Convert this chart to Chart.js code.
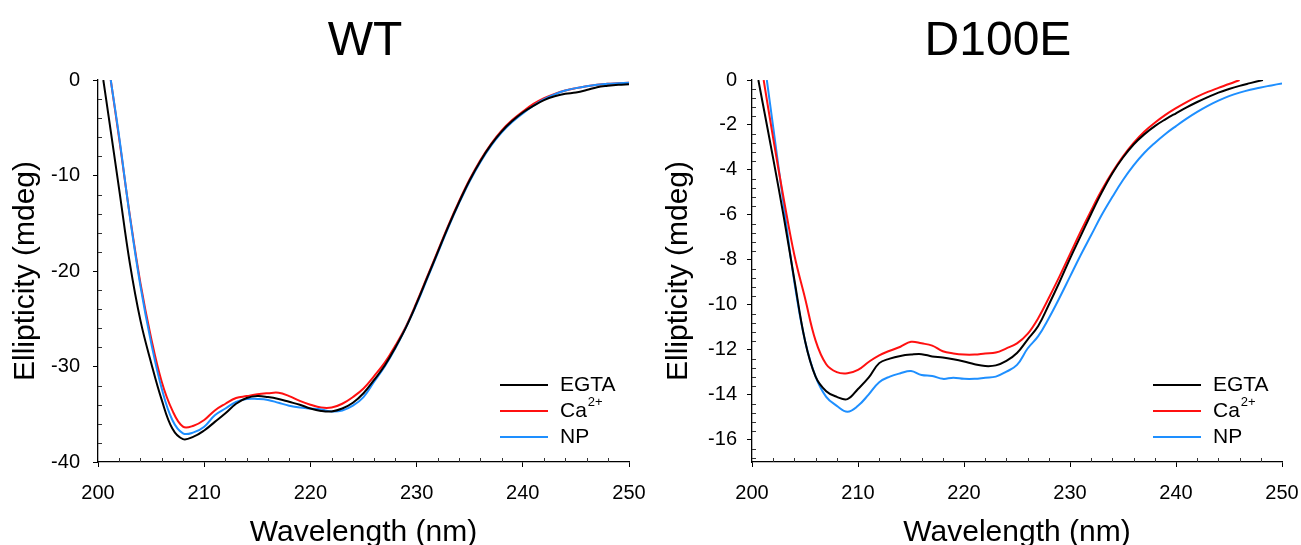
<!DOCTYPE html>
<html>
<head>
<meta charset="utf-8">
<script src="https://cdn.jsdelivr.net/npm/chart.js@4"></script>
<style>
  html, body { margin: 0; padding: 0; background: #fff; }
  #wrap { position: relative; width: 1301px; height: 545px; overflow: hidden; }
  canvas { position: absolute; top: 0; }
  #wt { left: 0; }
  #d100e { left: 650px; }
</style>
</head>
<body>
<div id="wrap">
  <canvas id="wt" width="650" height="545"></canvas>
  <canvas id="d100e" width="651" height="545"></canvas>
</div>
<script>
// ---- data ----
const seriesNames = ["EGTA", "Ca²⁺", "NP"];
const seriesColors = ["#000000", "#ff1010", "#1e8fff"];

const xTicks = [200, 210, 220, 230, 240, 250];
const wtYTicks = [0, -10, -20, -30, -40];
const d100eYTicks = [0, -2, -4, -6, -8, -10, -12, -14, -16];

// WT
const wtEgtaNm = [200.5, 201, 202, 203, 204, 205, 206, 207, 208, 209, 210, 211, 212, 213, 214, 215, 216, 217, 218, 219, 220, 221, 222, 223, 224, 225, 226, 227, 228, 229, 230, 231, 232, 233, 234, 235, 236, 237, 238, 239, 240, 241, 242, 243, 244, 245, 246, 247, 248, 249, 250];
const wtEgta = [0, -3.8, -11.5, -19.2, -25.2, -29.6, -33.5, -36.5, -37.6, -37.35, -36.7, -35.8, -34.9, -33.9, -33.3, -33.1, -33.2, -33.4, -33.7, -34.0, -34.4, -34.65, -34.7, -34.4, -33.8, -32.8, -31.4, -29.9, -28.0, -25.9, -23.4, -20.7, -18.0, -15.3, -12.8, -10.5, -8.5, -6.8, -5.4, -4.3, -3.4, -2.7, -2.1, -1.7, -1.45, -1.3, -1.05, -0.75, -0.6, -0.5, -0.45];

const wtCaNm = [201.2, 202, 203, 204, 205, 206, 207, 208, 209, 210, 211, 212, 213, 214, 215, 216, 217, 218, 219, 220, 221, 222, 223, 224, 225, 226, 227, 228, 229, 230, 231, 232, 233, 234, 235, 236, 237, 238, 239, 240, 241, 242, 243, 244, 245, 246, 247, 248, 249, 250];
const wtCa = [0, -6.2, -14.2, -21.3, -27.0, -31.6, -34.6, -36.3, -36.2, -35.6, -34.6, -33.9, -33.3, -33.1, -32.9, -32.8, -32.75, -33.1, -33.6, -34.0, -34.3, -34.3, -33.9, -33.2, -32.3, -31.0, -29.6, -27.8, -25.8, -23.3, -20.6, -17.9, -15.2, -12.7, -10.4, -8.4, -6.7, -5.3, -4.2, -3.3, -2.5, -1.9, -1.45, -1.1, -0.85, -0.65, -0.5, -0.4, -0.35, -0.3];

const wtNpNm = [201.2, 202, 203, 204, 205, 206, 207, 208, 209, 210, 211, 212, 213, 214, 215, 216, 217, 218, 219, 220, 221, 222, 223, 224, 225, 226, 227, 228, 229, 230, 231, 232, 233, 234, 235, 236, 237, 238, 239, 240, 241, 242, 243, 244, 245, 246, 247, 248, 249, 250];
const wtNp = [0, -6.0, -14.3, -21.6, -27.5, -32.3, -35.6, -37.0, -36.9, -36.3, -35.1, -34.4, -33.7, -33.4, -33.4, -33.5, -33.8, -34.1, -34.3, -34.4, -34.5, -34.7, -34.6, -34.1, -33.2, -31.6, -30.0, -28.1, -25.9, -23.5, -20.8, -18.1, -15.4, -12.9, -10.6, -8.6, -6.9, -5.5, -4.4, -3.5, -2.7, -2.0, -1.5, -1.1, -0.85, -0.65, -0.5, -0.4, -0.35, -0.3];

// D100E
const mutEgtaNm = [200.6, 201, 202, 203, 204, 205, 206, 207, 208, 209, 210, 211, 212, 213, 214, 215, 216, 217, 218, 219, 220, 221, 222, 223, 224, 225, 226, 227, 228, 229, 230, 231, 232, 233, 234, 235, 236, 237, 238, 239, 240, 241, 242, 243, 244, 245, 246, 247, 248.2];
const mutEgta = [0, -1.0, -3.5, -6.1, -8.9, -11.6, -13.2, -13.85, -14.1, -14.2, -13.75, -13.25, -12.6, -12.4, -12.28, -12.22, -12.2, -12.3, -12.35, -12.43, -12.53, -12.65, -12.73, -12.7, -12.5, -12.15, -11.55, -10.95, -10.0, -9.0, -7.95, -6.95, -5.95, -5.0, -4.15, -3.45, -2.87, -2.42, -2.05, -1.75, -1.48, -1.22, -0.98, -0.76, -0.56, -0.4, -0.26, -0.14, 0];

const mutCaNm = [201.1, 202, 203, 204, 205, 206, 207, 208, 209, 210, 211, 212, 213, 214, 215, 216, 217, 218, 219, 220, 221, 222, 223, 224, 225, 226, 227, 228, 229, 230, 231, 232, 233, 234, 235, 236, 237, 238, 239, 240, 241, 242, 243, 244, 245, 246];
const mutCa = [0, -2.6, -5.3, -7.8, -9.7, -11.6, -12.65, -13.0, -13.05, -12.9, -12.55, -12.25, -12.05, -11.87, -11.65, -11.72, -11.82, -12.07, -12.17, -12.22, -12.22, -12.17, -12.13, -11.94, -11.72, -11.3, -10.6, -9.7, -8.75, -7.75, -6.75, -5.8, -4.9, -4.1, -3.4, -2.8, -2.3, -1.9, -1.55, -1.25, -0.98, -0.74, -0.53, -0.35, -0.18, 0];

const mutNpNm = [201.4, 202, 203, 204, 205, 206, 207, 208, 209, 210, 211, 212, 213, 214, 215, 216, 217, 218, 219, 220, 221, 222, 223, 224, 225, 226, 227, 228, 229, 230, 231, 232, 233, 234, 235, 236, 237, 238, 239, 240, 241, 242, 243, 244, 245, 246, 247, 248, 249, 250];
const mutNp = [0, -2.1, -5.6, -9.0, -11.6, -13.2, -14.1, -14.5, -14.76, -14.5, -14.0, -13.45, -13.2, -13.05, -12.95, -13.13, -13.17, -13.3, -13.25, -13.3, -13.3, -13.25, -13.2, -12.98, -12.68, -11.95, -11.4, -10.6, -9.7, -8.75, -7.8, -6.9, -6.0, -5.2, -4.45, -3.8, -3.25, -2.8, -2.4, -2.05, -1.72, -1.42, -1.15, -0.92, -0.72, -0.56, -0.43, -0.33, -0.24, -0.15];

const FONT = "'Liberation Sans', Arial, sans-serif";

function pairs(nm, vals) {
  return nm.map((x, i) => ({ x: x, y: vals[i] }));
}

// small minor ticks pointing into the plot
const minorTicks = {
  id: "minorTicks",
  afterDraw(chart, args, opts) {
    const ctx = chart.ctx;
    const xs = chart.scales.x, ys = chart.scales.y;
    ctx.save();
    ctx.strokeStyle = "#333";
    ctx.lineWidth = 1;
    ctx.beginPath();
    let n = Math.round((xs.max - xs.min) / opts.xStep);
    for (let i = 1; i < n; i++) {
      const v = xs.min + i * opts.xStep;
      if (Math.abs(v / opts.xMajor - Math.round(v / opts.xMajor)) < 1e-6) continue;
      const px = Math.round(xs.getPixelForValue(v)) + 0.5;
      ctx.moveTo(px, ys.bottom);
      ctx.lineTo(px, ys.bottom - 4);
    }
    n = Math.round((ys.max - ys.min) / opts.yStep);
    for (let i = 1; i < n; i++) {
      const v = ys.max - i * opts.yStep;
      if (Math.abs(v / opts.yMajor - Math.round(v / opts.yMajor)) < 1e-6) continue;
      const py = Math.round(ys.getPixelForValue(v)) + 0.5;
      ctx.moveTo(xs.left, py);
      ctx.lineTo(xs.left + 4, py);
    }
    ctx.stroke();
    ctx.restore();
  }
};

// legend inside bottom-right, drawn from the datasets
const insideLegend = {
  id: "insideLegend",
  afterDraw(chart) {
    const ctx = chart.ctx;
    const a = chart.chartArea;
    const rows = [a.bottom - 77, a.bottom - 51, a.bottom - 25];
    ctx.save();
    chart.data.datasets.forEach((ds, i) => {
      const y = rows[i];
      ctx.strokeStyle = ds.borderColor;
      ctx.lineWidth = 2;
      ctx.beginPath();
      ctx.moveTo(a.right - 129, y);
      ctx.lineTo(a.right - 81, y);
      ctx.stroke();
      ctx.fillStyle = "#000";
      ctx.textBaseline = "middle";
      ctx.textAlign = "left";
      ctx.font = "21px " + FONT;
      const m = ds.label.match(/^(.*?)([²⁺]+)$/);
      if (m) {
        ctx.fillText(m[1], a.right - 69, y);
        const w = ctx.measureText(m[1]).width;
        ctx.font = "13px " + FONT;
        ctx.fillText(m[2].replace("²", "2").replace("⁺", "+"), a.right - 69 + w + 1, y - 9);
      } else {
        ctx.fillText(ds.label, a.right - 69, y);
      }
    });
    ctx.restore();
  }
};

const panelTitle = {
  id: "panelTitle",
  afterDraw(chart, args, opts) {
    const ctx = chart.ctx;
    ctx.save();
    ctx.fillStyle = "#000";
    ctx.font = "48px " + FONT;
    ctx.textAlign = "center";
    ctx.textBaseline = "alphabetic";
    ctx.fillText(opts.text, opts.x, 55);
    ctx.restore();
  }
};

function makeChart(id, cfg) {
  const datasets = cfg.series.map((s, i) => ({
    label: seriesNames[i],
    data: pairs(s[0], s[1]),
    borderColor: seriesColors[i],
    borderWidth: 2,
    pointRadius: 0,
    tension: 0.4,
    fill: false,
    order: cfg.order[i]
  }));

  return new Chart(document.getElementById(id), {
    type: "line",
    data: { datasets: datasets },
    plugins: [minorTicks, insideLegend, panelTitle],
    options: {
      responsive: false,
      animation: false,
      events: [],
      layout: { padding: { left: 0, top: 80, right: cfg.padRight, bottom: 0 } },
      plugins: {
        legend: { display: false },
        tooltip: { enabled: false },
        minorTicks: cfg.minor,
        panelTitle: { text: cfg.title, x: cfg.titleX }
      },
      scales: {
        x: {
          type: "linear",
          min: 200,
          max: 250,
          afterBuildTicks: (s) => { s.ticks = xTicks.map(v => ({ value: v })); },
          afterFit: (s) => { s.height = 83; s.paddingLeft = 0; s.paddingRight = 0; },
          grid: { drawOnChartArea: false, tickLength: 5, tickColor: "#000", tickWidth: 1 },
          border: { color: "#000", width: 1.3 },
          ticks: { color: "#000", padding: 14, maxRotation: 0, autoSkip: false, font: { family: FONT, size: 20 } },
          title: {
            display: true,
            text: "Wavelength (nm)",
            color: "#000",
            font: { family: FONT, size: 30, lineHeight: 0.8 },
            padding: { top: 0, bottom: 0 }
          }
        },
        y: {
          type: "linear",
          min: cfg.yMin,
          max: 0,
          afterBuildTicks: (s) => { s.ticks = cfg.yTicks.map(v => ({ value: v })); },
          afterFit: (s) => { s.width = cfg.yWidth; },
          grid: { drawOnChartArea: false, tickLength: 5, tickColor: "#000", tickWidth: 1 },
          border: { color: "#000", width: 1.3 },
          ticks: { color: "#000", padding: cfg.yPad, autoSkip: false, font: { family: FONT, size: 20 } },
          title: {
            display: true,
            text: "Ellipticity (mdeg)",
            color: "#000",
            font: { family: FONT, size: 30, lineHeight: 0.8 },
            padding: { top: cfg.yTitlePad, bottom: 0 }
          }
        }
      }
    }
  });
}

makeChart("wt", {
  title: "WT",
  titleX: 365,
  series: [[wtEgtaNm, wtEgta], [wtCaNm, wtCa], [wtNpNm, wtNp]],
  order: [0, 2, 1],
  yMin: -40,
  yTicks: wtYTicks,
  yWidth: 98,
  yPad: 13,
  yTitlePad: 14,
  padRight: 21,
  minor: { xStep: 2, xMajor: 10, yStep: 2, yMajor: 10 }
});

makeChart("d100e", {
  title: "D100E",
  titleX: 348,
  series: [[mutEgtaNm, mutEgta], [mutCaNm, mutCa], [mutNpNm, mutNp]],
  order: [0, 1, 2],
  yMin: -17,
  yTicks: d100eYTicks,
  yWidth: 102,
  yPad: 10,
  yTitlePad: 17,
  padRight: 19,
  minor: { xStep: 2, xMajor: 10, yStep: 0.4, yMajor: 2 }
});
</script>
</body>
</html>
